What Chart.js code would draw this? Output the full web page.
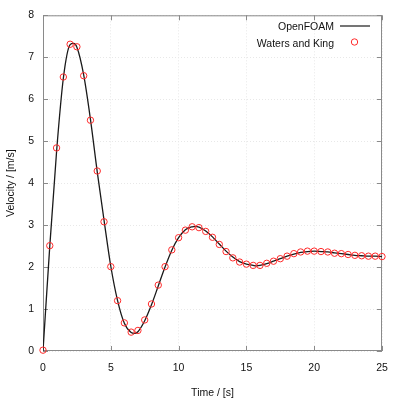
<!DOCTYPE html>
<html>
<head>
<meta charset="utf-8">
<script src="https://cdn.jsdelivr.net/npm/chart.js@4/dist/chart.umd.min.js"></script>
<style>
  html, body { margin: 0; padding: 0; background: #fff; }
</style>
</head>
<body>
<canvas id="chart" width="400" height="400"></canvas>
<script>
// Waters and King measurements (every 0.5 s)
var expTime = [0, 0.5, 1, 1.5, 2, 2.5, 3, 3.5, 4, 4.5, 5, 5.5, 6, 6.5, 7, 7.5, 8, 8.5, 9, 9.5,
  10, 10.5, 11, 11.5, 12, 12.5, 13, 13.5, 14, 14.5, 15, 15.5, 16, 16.5, 17, 17.5, 18, 18.5, 19, 19.5,
  20, 20.5, 21, 21.5, 22, 22.5, 23, 23.5, 24, 24.5, 25];
var expVel = [0.02, 2.51, 4.84, 6.53, 7.31, 7.25, 6.56, 5.50, 4.29, 3.08, 2.01, 1.20, 0.67, 0.45, 0.49, 0.74, 1.12, 1.57, 2.01, 2.41,
  2.70, 2.88, 2.96, 2.94, 2.85, 2.71, 2.54, 2.37, 2.22, 2.12, 2.07, 2.04, 2.04, 2.09, 2.14, 2.20, 2.26, 2.32, 2.36, 2.38,
  2.38, 2.37, 2.36, 2.33, 2.32, 2.30, 2.28, 2.27, 2.26, 2.26, 2.25];

// OpenFOAM curve
var cfdTime = [0, 0.5, 1, 1.5, 2, 2.25, 2.5, 3, 3.5, 4, 4.5, 5, 5.5, 6, 6.5, 6.75, 7, 7.5, 8, 8.5, 9, 9.5,
  10, 10.5, 11, 11.25, 11.5, 12, 12.5, 13, 13.5, 14, 14.5, 15, 15.5, 15.75, 16, 16.5, 17, 17.5, 18, 18.5, 19, 19.5,
  20, 20.5, 21, 21.5, 22, 22.5, 23, 23.5, 24, 24.5, 25];
var cfdVel = [0, 2.50, 4.75, 6.50, 7.30, 7.33, 7.24, 6.58, 5.52, 4.27, 3.12, 2.02, 1.20, 0.66, 0.44, 0.42, 0.46, 0.72, 1.10, 1.55, 2.00, 2.40,
  2.70, 2.89, 2.96, 2.97, 2.95, 2.86, 2.72, 2.55, 2.38, 2.24, 2.13, 2.07, 2.04, 2.03, 2.04, 2.08, 2.14, 2.20, 2.26, 2.31, 2.35, 2.37,
  2.38, 2.37, 2.36, 2.34, 2.32, 2.30, 2.28, 2.27, 2.26, 2.26, 2.25];

var xTicks = [0, 5, 10, 15, 20, 25];
var yTicks = [0, 1, 2, 3, 4, 5, 6, 7, 8];

var FONT = 'Liberation Sans, Arial, sans-serif';

function pts(xs, ys) {
  return xs.map(function (x, i) { return {x: x, y: ys[i]}; });
}

// gnuplot style frame: box, inward ticks on all sides, legend in top right
var framePlugin = {
  id: 'frame',
  beforeDatasetsDraw: function (chart) {
    var ctx = chart.ctx, a = chart.chartArea;
    var xs = chart.scales.x, ys = chart.scales.y;
    ctx.save();
    ctx.strokeStyle = '#8a8a8a';
    ctx.lineWidth = 1;
    ctx.strokeRect(a.left + 0.5, a.top + 0.5, a.right - a.left - 1, a.bottom - a.top - 1);
    ctx.beginPath();
    xTicks.forEach(function (v) {
      var px = Math.round(xs.getPixelForValue(v)) + 0.5;
      ctx.moveTo(px, a.bottom); ctx.lineTo(px, a.bottom - 5);
      ctx.moveTo(px, a.top); ctx.lineTo(px, a.top + 5);
    });
    yTicks.forEach(function (v) {
      var py = Math.round(ys.getPixelForValue(v)) + 0.5;
      ctx.moveTo(a.left, py); ctx.lineTo(a.left + 5, py);
      ctx.moveTo(a.right, py); ctx.lineTo(a.right - 5, py);
    });
    ctx.stroke();
    ctx.restore();
  },
  afterDraw: function (chart) {
    var ctx = chart.ctx;
    var ds = chart.data.datasets;
    ctx.save();
    ctx.font = '10.5px ' + FONT;
    ctx.fillStyle = '#111';
    ctx.textAlign = 'right';
    ctx.textBaseline = 'middle';
    ctx.fillText(ds[1].label, 334, 27);
    ctx.fillText(ds[0].label, 334, 44);
    ctx.strokeStyle = ds[1].borderColor;
    ctx.lineWidth = 1.2;
    ctx.beginPath();
    ctx.moveTo(340, 26); ctx.lineTo(370, 26);
    ctx.stroke();
    ctx.strokeStyle = ds[0].borderColor;
    ctx.lineWidth = 1;
    ctx.beginPath();
    ctx.arc(354.5, 42, 3.2, 0, Math.PI * 2);
    ctx.stroke();
    ctx.restore();
  }
};

var ctx = document.getElementById('chart').getContext('2d');
var chart = new Chart(ctx, {
  type: 'line',
  data: {
    datasets: [{
      label: 'Waters and King',
      type: 'scatter',
      data: pts(expTime, expVel),
      showLine: false,
      clip: false,
      pointStyle: 'circle',
      pointRadius: 3.2,
      pointBorderWidth: 1,
      borderColor: '#ff2a2a',
      backgroundColor: 'rgba(0,0,0,0)',
      order: 0
    }, {
      label: 'OpenFOAM',
      data: pts(cfdTime, cfdVel),
      borderColor: '#1a1a1a',
      borderWidth: 1.3,
      pointRadius: 0,
      fill: false,
      cubicInterpolationMode: 'monotone',
      order: 1
    }]
  },
  options: {
    responsive: false,
    animation: false,
    layout: { padding: { top: 12, right: 18, left: 0, bottom: 0 } },
    plugins: { legend: { display: false }, tooltip: { enabled: false } },
    scales: {
      x: {
        type: 'linear',
        min: 0, max: 25,
        afterFit: function (s) { s.height = 49; },
        afterBuildTicks: function (s) { s.ticks = xTicks.map(function (v) { return {value: v}; }); },
        grid: { color: '#e8e8e8', lineWidth: 1, drawTicks: false },
        border: { display: false, dash: [1, 2] },
        ticks: { padding: 11, color: '#111', font: { family: FONT, size: 10.5 } },
        title: { display: true, text: 'Time / [s]', color: '#111', padding: { top: 0, bottom: 1 }, font: { family: FONT, size: 10.5 } }
      },
      y: {
        min: 0, max: 8,
        afterFit: function (s) { s.width = 43; },
        afterBuildTicks: function (s) { s.ticks = yTicks.map(function (v) { return {value: v}; }); },
        grid: { color: '#e8e8e8', lineWidth: 1, drawTicks: false },
        border: { display: false, dash: [1, 2] },
        ticks: { padding: 9, color: '#111', font: { family: FONT, size: 10.5 } },
        title: { display: true, text: 'Velocity / [m/s]', color: '#111', padding: { top: 5, bottom: 0 }, font: { family: FONT, size: 10.5 } }
      }
    }
  },
  plugins: [framePlugin]
});
</script>
</body>
</html>
